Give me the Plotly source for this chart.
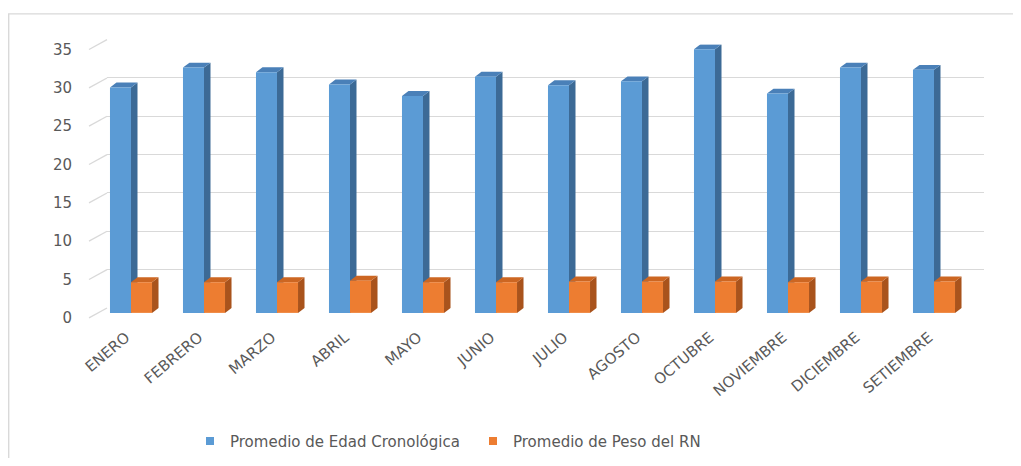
import plotly.graph_objects as go

meses = ["ENERO", "FEBRERO", "MARZO", "ABRIL", "MAYO", "JUNIO", "JULIO",
         "AGOSTO", "OCTUBRE", "NOVIEMBRE", "DICIEMBRE", "SETIEMBRE"]
edad = [29.4, 32.0, 31.4, 29.8, 28.3, 30.8, 29.7, 30.2, 34.4, 28.6, 32.0, 31.7]
peso = [4.0, 4.0, 4.0, 4.2, 4.0, 4.0, 4.1, 4.1, 4.1, 4.0, 4.1, 4.1]
y_ticks = [0, 5, 10, 15, 20, 25, 30, 35]
serie_edad = "Promedio de Edad Cronológica"
serie_peso = "Promedio de Peso del RN"

# page body has an 8px margin: figure is 1005x450 so that the page is 1021x466
OFF = 8
W, H = 1021 - 2 * OFF, 466 - 2 * OFF
def px(p):
    return (p - OFF) / W
def py(p):
    return 1 - (p - OFF) / H

first_c, step = 131.0, 73.0
bar_w = 0.288
pix_per_unit = 7.77
dx = 6.5 / step
dy = 5.0 / pix_per_unit

BLUE, BLUE_SIDE, BLUE_TOP = "#5B9BD5", "#3C6A96", "#4A80B8"
ORANGE, ORANGE_SIDE, ORANGE_TOP = "#ED7D31", "#A9531C", "#CC6622"
GRID = "#D9D9D9"
TXT = "#595959"
FONT = "DejaVu Sans"

idx = list(range(len(meses)))
fig = go.Figure()

fig.add_trace(go.Scatter(x=[None], y=[None], xaxis="x", yaxis="y",
                         showlegend=False, hoverinfo="skip"))
fig.add_trace(go.Bar(x=idx, y=edad, width=bar_w, offset=-bar_w, name=serie_edad,
                     marker=dict(color=BLUE, line=dict(width=0)),
                     xaxis="x2", yaxis="y2", showlegend=False))
fig.add_trace(go.Bar(x=idx, y=peso, width=bar_w, offset=0, name=serie_peso,
                     marker=dict(color=ORANGE, line=dict(width=0)),
                     xaxis="x2", yaxis="y2", showlegend=False))
# legend entries (small square keys)
for nm, col in [(serie_edad, BLUE), (serie_peso, ORANGE)]:
    fig.add_trace(go.Scatter(x=[None], y=[None], mode="markers", name=nm,
                             marker=dict(symbol="square", size=8, color=col),
                             xaxis="x3", yaxis="y3", showlegend=True))

shapes = []
def box3d(xl, xr, v, side, top):
    return [
        dict(type="path", xref="x2", yref="y2", layer="below",
             path=f"M {xr},0 L {xr},{v} L {xr+dx},{v+dy} L {xr+dx},{dy} Z",
             fillcolor=side, line=dict(width=0)),
        dict(type="path", xref="x2", yref="y2", layer="below",
             path=f"M {xl},{v} L {xr},{v} L {xr+dx},{v+dy} L {xl+dx},{v+dy} Z",
             fillcolor=top, line=dict(width=0)),
    ]

for i in idx:
    shapes += box3d(i - bar_w, i, edad[i], BLUE_SIDE, BLUE_TOP)
for i in idx:
    shapes += box3d(i, i + bar_w, peso[i], ORANGE_SIDE, ORANGE_TOP)

for v in y_ticks:
    shapes.append(dict(type="line", xref="paper", yref="paper",
                       x0=px(89), y0=py(322 - pix_per_unit * v),
                       x1=px(107), y1=py(312 - pix_per_unit * v),
                       line=dict(color=GRID, width=1.3)))
shapes.append(dict(type="rect", xref="paper", yref="paper", layer="below",
                   x0=px(8.7), y0=py(14), x1=px(1060), y1=py(500),
                   line=dict(color=GRID, width=1.4), fillcolor="rgba(0,0,0,0)"))

x2_left, x2_right = 98, 976
fig.update_layout(
    width=W, height=H,
    margin=dict(l=0, r=0, t=0, b=0, pad=0),
    paper_bgcolor="white",
    plot_bgcolor="rgba(0,0,0,0)",
    font=dict(family=FONT, color=TXT),
    barmode="overlay",
    shapes=shapes,
    showlegend=True,
    legend=dict(orientation="h", x=px(190), y=py(447), xanchor="left", yanchor="middle",
                font=dict(family=FONT, size=15, color=TXT), itemwidth=30,
                entrywidth=238, entrywidthmode="pixels",
                bgcolor="rgba(0,0,0,0)"),
    xaxis=dict(domain=[px(107), px(984)], range=[0, 1], visible=False, automargin=False),
    yaxis=dict(domain=[py(312), py(312 - pix_per_unit * 35)], range=[0, 35],
               tickvals=y_ticks, showgrid=True, gridcolor=GRID, gridwidth=1.3,
               zeroline=False, showticklabels=False, ticks="", showline=False,
               anchor="x", automargin=False),
    xaxis2=dict(domain=[px(x2_left), px(x2_right)],
                range=[(x2_left - first_c) / step, (x2_right - first_c) / step],
                tickvals=idx, ticktext=meses, tickangle=-40, ticks="",
                showgrid=False, zeroline=False, showline=False, anchor="y2",
                tickfont=dict(family=FONT, size=15, color=TXT),
                ticklabelstandoff=12, ticklabelshift=-5, automargin=False),
    yaxis2=dict(domain=[py(317), py(317 - pix_per_unit * 35)], range=[0, 35],
                showgrid=False, zeroline=False, showticklabels=False, ticks="",
                showline=False, anchor="x2", automargin=False),
    xaxis3=dict(domain=[px(89), px(984)], range=[0, 1], visible=False, automargin=False),
    yaxis3=dict(domain=[py(322), py(322 - pix_per_unit * 35)], range=[0, 35],
                tickvals=y_ticks, showgrid=False, zeroline=False, showline=False,
                ticks="", anchor="x3", ticklabelstandoff=16, automargin=False,
                tickfont=dict(family=FONT, size=15, color=TXT)),
)

fig.write_html("out.html")
